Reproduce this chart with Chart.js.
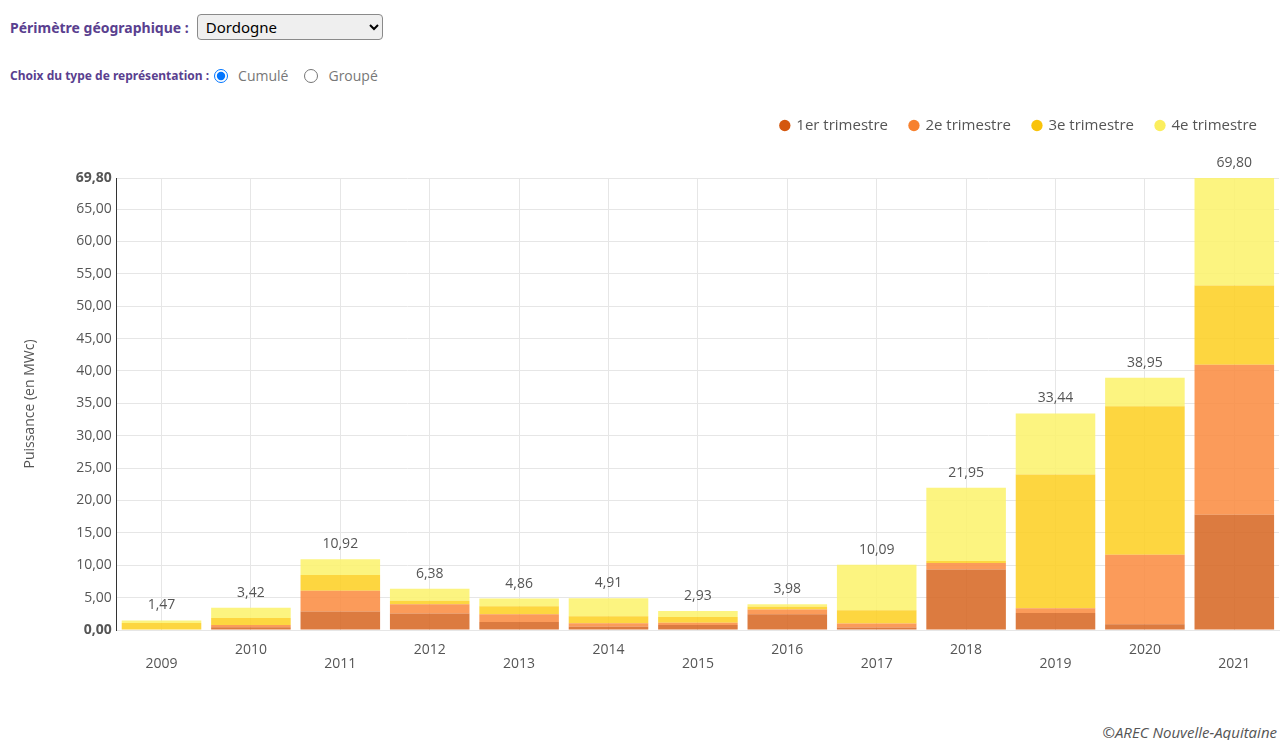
<!DOCTYPE html>
<html lang="fr">
<head>
<meta charset="utf-8">
<script src="https://cdn.jsdelivr.net/npm/chart.js@4.4.0/dist/chart.umd.min.js"></script>
<style>
  body { margin: 0; background: #fff; font-family: "Open Sans", sans-serif; }
  .filtre { position: absolute; left: 10px; top: 14px; display: flex; align-items: center; }
  .filtre label { color: #5a3f8f; font-weight: bold; font-size: 14px; font-family: "Noto Sans", sans-serif; margin-right: 8px; }
  .filtre select { width: 186px; height: 26px; font-size: 15px; font-family: "Noto Sans", sans-serif; border: 1px solid #8a8a8a; border-radius: 4px; background: #efefef; padding-left: 4px; }
  .choix { position: absolute; left: 10px; top: 66px; display: flex; align-items: center; font-size: 14px; color: #777; }
  .choix .titre { color: #5a3f8f; font-weight: bold; font-size: 12px; font-family: "Noto Sans", sans-serif; }
  .choix input { width: 14px; height: 14px; margin: 0 10px 0 5px; }
  #wrap { position: absolute; left: 0; top: 96px; width: 1281px; height: 588px; }
  .copy { position: absolute; right: 4px; top: 722px; font-style: italic; color: #555; font-size: 15px; }
</style>
</head>
<body>
<div class="filtre">
  <label>Périmètre géographique :</label>
  <select><option>Dordogne</option></select>
</div>
<div class="choix">
  <span class="titre">Choix du type de représentation :</span>
  <input type="radio" name="t" checked><span>Cumulé</span>
  <input type="radio" name="t" style="margin-left:16px"><span>Groupé</span>
</div>
<div id="wrap"><canvas id="chart"></canvas></div>
<div class="copy">©AREC Nouvelle-Aquitaine</div>
<script>
// Données (MWc) par trimestre
const years = ['2009', '2010', '2011', '2012', '2013', '2014', '2015', '2016', '2017', '2018', '2019', '2020', '2021'];
const trim1 = [0, 0.42, 2.84, 2.53, 1.24, 0.50, 0.78, 2.45, 0.40, 9.35, 2.64, 0.90, 17.80];
const trim2 = [0, 0.36, 3.21, 1.45, 1.19, 0.53, 0.35, 0.70, 0.60, 1.00, 0.72, 10.73, 23.15];
const trim3 = [1.10, 1.08, 2.43, 0.52, 1.24, 1.09, 0.87, 0.45, 2.05, 0.30, 20.64, 22.94, 12.25];
const trim4 = [0.37, 1.56, 2.44, 1.88, 1.19, 2.79, 0.93, 0.38, 7.04, 11.30, 9.44, 4.38, 16.60];
const yTicks = [0, 5, 10, 15, 20, 25, 30, 35, 40, 45, 50, 55, 60, 65, 69.8];

const seriesNames = ['1er trimestre', '2e trimestre', '3e trimestre', '4e trimestre'];
const barColors = ['rgba(214,100,30,0.85)', 'rgba(250,137,61,0.85)', 'rgba(253,207,31,0.85)', 'rgba(252,242,106,0.85)'];
const legendColors = ['#d4570e', '#f7812f', '#f9c30a', '#fbee5d'];

const fmt = v => v.toFixed(2).replace('.', ',');

// Totaux au-dessus des barres
const totalsPlugin = {
    id: 'totals',
    afterDatasetsDraw(chart) {
        const ctx = chart.ctx;
        const yScale = chart.scales.y;
        const meta = chart.getDatasetMeta(0);
        ctx.save();
        ctx.font = '14px "Open Sans", sans-serif';
        ctx.fillStyle = '#555';
        ctx.textAlign = 'center';
        ctx.textBaseline = 'bottom';
        years.forEach((y, i) => {
            const total = chart.data.datasets.reduce((s, d) => s + d.data[i], 0);
            const x = meta.data[i].x;
            ctx.fillText(fmt(total), x, yScale.getPixelForValue(total) - 8);
        });
        ctx.restore();
    }
};

// Espace sous la légende
const legendSpace = {
    id: 'legendSpace',
    beforeInit(chart) {
        const fit = chart.legend.fit;
        chart.legend.fit = function () {
            fit.bind(chart.legend)();
            this.height = 82;
        };
    }
};

const ctx = document.getElementById('chart').getContext('2d');
new Chart(ctx, {
    type: 'bar',
    data: {
        labels: years,
        datasets: [trim1, trim2, trim3, trim4].map((d, i) => ({
            label: seriesNames[i],
            data: d,
            backgroundColor: barColors[i],
            borderWidth: 0,
            categoryPercentage: 1,
            barPercentage: 0.89
        }))
    },
    options: {
        responsive: true,
        maintainAspectRatio: false,
        animation: false,
        layout: { padding: { top: 0, right: 2, left: 18, bottom: 0 } },
        plugins: {
            legend: {
                position: 'top',
                align: 'end',
                labels: {
                    usePointStyle: true,
                    pointStyle: 'circle',
                    boxWidth: 8,
                    boxHeight: 8,
                    padding: 22,
                    color: '#555',
                    font: { family: '"Open Sans", sans-serif', size: 15 },
                    generateLabels(chart) {
                        const items = Chart.defaults.plugins.legend.labels.generateLabels(chart);
                        items.forEach((it, i) => { it.fillStyle = legendColors[i]; it.strokeStyle = legendColors[i]; });
                        return items;
                    }
                }
            },
            tooltip: { enabled: false }
        },
        scales: {
            x: {
                stacked: true,
                grid: { offset: false, color: '#e6e6e6', drawTicks: false },
                border: { color: '#e6e6e6' },
                ticks: {
                    color: '#555',
                    padding: 13,
                    maxRotation: 0,
                    autoSkip: false,
                    font: { family: '"Open Sans", sans-serif', size: 14, lineHeight: 1 },
                    callback: (v, i) => i % 2 === 0 ? ['', years[i]] : [years[i], '']
                }
            },
            y: {
                stacked: true,
                min: 0,
                max: 69.8,
                afterBuildTicks: axis => { axis.ticks = yTicks.map(v => ({ value: v })); },
                grid: { color: '#e6e6e6', drawTicks: false },
                border: { color: '#333', width: 1 },
                title: {
                    display: true,
                    text: 'Puissance (en MWc)',
                    color: '#555',
                    font: { family: '"Open Sans", sans-serif', size: 14 },
                    padding: { bottom: 32 }
                },
                ticks: {
                    color: '#555',
                    padding: 5,
                    font: ctx => ({
                        family: '"Open Sans", sans-serif',
                        size: 14,
                        weight: (ctx.tick && (ctx.tick.value === 0 || ctx.tick.value === 69.8)) ? 'bold' : 'normal'
                    }),
                    callback: v => fmt(v)
                }
            }
        }
    },
    plugins: [totalsPlugin, legendSpace]
});
</script>
</body>
</html>
